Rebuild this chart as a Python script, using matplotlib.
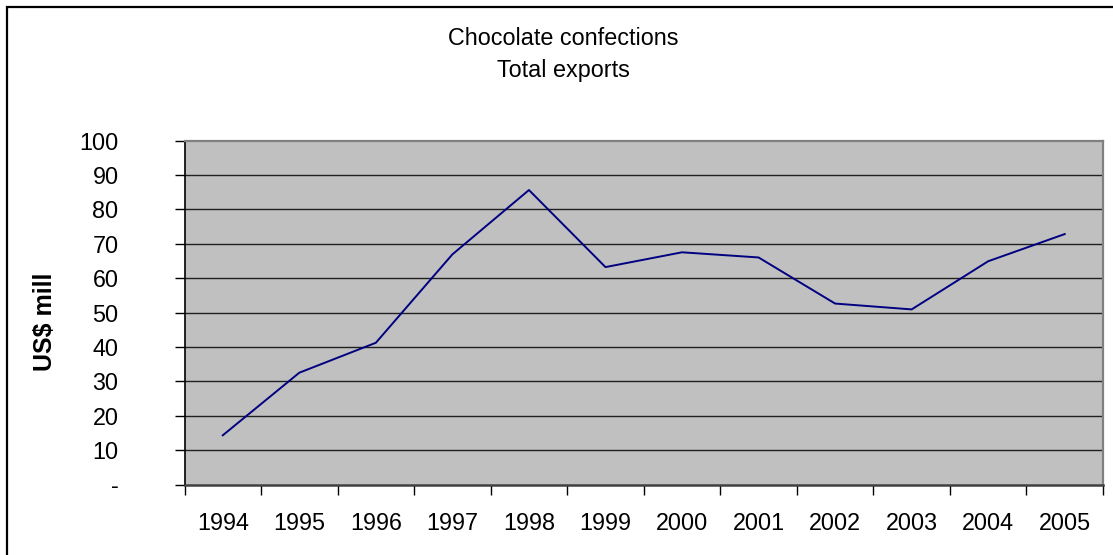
import matplotlib
matplotlib.use("Agg")
import matplotlib.pyplot as plt
from matplotlib.patches import Rectangle
from matplotlib.ticker import FixedLocator

years = ["1994", "1995", "1996", "1997", "1998", "1999",
         "2000", "2001", "2002", "2003", "2004", "2005"]
exports = [14.3, 32.5, 41.2, 66.9, 85.6, 63.2, 67.5, 66.0, 52.6, 50.9, 64.9, 72.8]
y_ticks = [0, 10, 20, 30, 40, 50, 60, 70, 80, 90, 100]
y_tick_labels = ["-", "10", "20", "30", "40", "50", "60", "70", "80", "90", "100"]

plt.rcParams["font.family"] = ["Liberation Sans", "DejaVu Sans"]

W, H = 1113, 555
FS = 16.8
fig = plt.figure(figsize=(W / 100, H / 100), dpi=100)
fig.patch.set_facecolor("white")

# outer chart frame
fig.patches.append(Rectangle((7 / W, -0.1), 1.2, 1 - 7 / H + 0.1,
                             transform=fig.transFigure, fill=False,
                             edgecolor="black", linewidth=1.6))

ax = fig.add_axes([184.5 / W, 1 - 484.5 / H, (1103 - 184.5) / W, (484.5 - 140.5) / H])
ax.set_facecolor("#C0C0C0")

x = list(range(len(years)))
ax.plot(x, exports, color="#000080", linewidth=1.4, zorder=3)

ax.set_xlim(-0.5, len(years) - 0.5)
ax.set_ylim(0, 100)

# horizontal gridlines
for v in y_ticks[1:-1]:
    ax.axhline(v, color="#202020", linewidth=1.0, zorder=1)

ax.yaxis.set_major_locator(FixedLocator(y_ticks))
ax.set_yticklabels(y_tick_labels)
ax.tick_params(axis="y", direction="out", length=7, width=1, color="black",
               labelsize=FS, pad=40.5)

ax.xaxis.set_major_locator(FixedLocator(x))
ax.set_xticklabels(years)
ax.xaxis.set_minor_locator(FixedLocator([i - 0.5 for i in range(len(years) + 1)]))
ax.tick_params(axis="x", which="major", length=0, labelsize=FS, pad=20)
ax.tick_params(axis="x", which="minor", direction="out", length=7, width=1, color="black")

for side in ("top", "right"):
    ax.spines[side].set_color("#808080")
    ax.spines[side].set_linewidth(1.6)
ax.spines["left"].set_color("black")
ax.spines["left"].set_linewidth(1.2)
ax.spines["bottom"].set_color("#404040")
ax.spines["bottom"].set_linewidth(1.8)

fig.text(563.5 / W, 1 - 45 / H, "Chocolate confections", ha="center", va="baseline",
         fontsize=FS)
fig.text(563.5 / W, 1 - 77.5 / H, "Total exports", ha="center", va="baseline",
         fontsize=FS)
fig.text(45 / W, 1 - 322 / H, "US$ mill", rotation=90, ha="center", va="center",
         fontsize=18, fontweight="bold")

fig.savefig("out.png", dpi=100)
